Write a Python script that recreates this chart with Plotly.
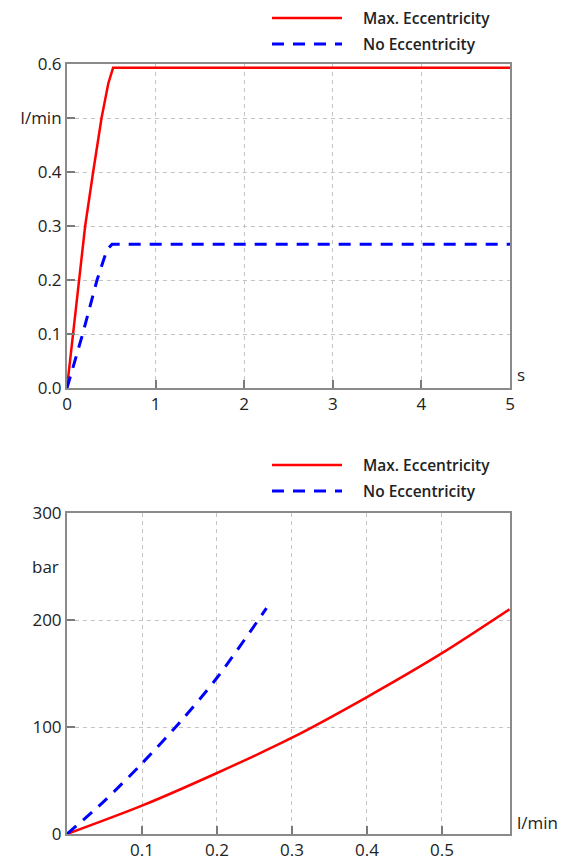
import plotly.graph_objects as go

# ---- data: top chart (flow vs time) ----
t_max = [0, 0.07, 0.135, 0.205, 0.295, 0.39, 0.466, 0.52, 5.0]
q_max = [0, 0.1, 0.2, 0.3, 0.4, 0.5, 0.564, 0.593, 0.593]
t_no = [0, 0.177, 0.339, 0.451, 0.508, 5.0]
q_no = [0, 0.1, 0.2, 0.256, 0.266, 0.266]

# ---- data: bottom chart (pressure vs flow) ----
f_max = [0, 0.1, 0.2, 0.3, 0.4, 0.5, 0.59]
p_max = [0, 26.5, 57, 90, 128, 169, 210]
f_no = [0, 0.05, 0.1, 0.15, 0.2, 0.266]
p_no = [0, 31, 66, 104, 146, 211]

series_names = ["Max. Eccentricity", "No Eccentricity"]

top_xticks = [0, 1, 2, 3, 4, 5]
top_yticks = [0, 0.1, 0.2, 0.3, 0.4, 0.5, 0.6]
top_ytext = ["0.0", "0.1", "0.2", "0.3", "0.4", "l/min", "0.6"]
bot_xticks = [0.1, 0.2, 0.3, 0.4, 0.5]
bot_xtext = ["0.1", "0.2", "0.3", "0.4", "0.5"]
bot_yticks = [0, 100, 200, 300]
bot_ytext = ["0", "100", "200", "300"]

# page body has an 8px default margin; size the figure so it fits the window
OFF = 8
W, H = 569 - OFF, 866 - OFF
RED = "#ff0000"
BLUE = "#0000ff"
FONT = "Open Sans"
TXT = "#222222"
DASH = "12px,9px"
TICK_SIZE = 17
LEG_SIZE = 15.5


def X(px):
    return (px - OFF) / W


def Y(py):
    return 1 - (py - OFF) / H


fig = go.Figure()
fig.add_trace(go.Scatter(x=t_max, y=q_max, mode="lines", name=series_names[0],
                         line=dict(color=RED, width=2.5), xaxis="x", yaxis="y", showlegend=False))
fig.add_trace(go.Scatter(x=t_no, y=q_no, mode="lines", name=series_names[1],
                         line=dict(color=BLUE, width=3, dash=DASH), xaxis="x", yaxis="y", showlegend=False))
fig.add_trace(go.Scatter(x=f_max, y=p_max, mode="lines", name=series_names[0],
                         line=dict(color=RED, width=2.5, shape="spline", smoothing=0.8),
                         xaxis="x2", yaxis="y2", showlegend=False))
fig.add_trace(go.Scatter(x=f_no, y=p_no, mode="lines", name=series_names[1],
                         line=dict(color=BLUE, width=3, dash=DASH, shape="spline", smoothing=0.8),
                         xaxis="x2", yaxis="y2", showlegend=False))

axis_common = dict(
    showline=True, linecolor="#8a8a8a", linewidth=2, mirror=True,
    ticks="inside", ticklen=8, tickwidth=2, tickcolor="#7a7a7a",
    showgrid=True, gridcolor="#c4c4c4", gridwidth=1, griddash="4px,4px",
    zeroline=False, tickfont=dict(family=FONT, size=TICK_SIZE, color=TXT),
    automargin=False, fixedrange=True,
)

x_dom = [X(67), X(510)]
top_dom = [Y(388), Y(64)]
bot_dom = [Y(834), Y(513)]

fig.update_layout(
    width=W, height=H,
    margin=dict(l=0, r=0, t=0, b=0),
    paper_bgcolor="white", plot_bgcolor="white",
    font=dict(family=FONT, color=TXT),
    xaxis=dict(axis_common, domain=x_dom, range=[0, 5], tickvals=top_xticks, anchor="y"),
    yaxis=dict(axis_common, domain=top_dom, range=[0, 0.6], tickvals=top_yticks,
               ticktext=top_ytext, anchor="x"),
    xaxis2=dict(axis_common, domain=x_dom, range=[0, 0.5907], tickvals=bot_xticks,
                ticktext=bot_xtext, anchor="y2"),
    yaxis2=dict(axis_common, domain=bot_dom, range=[0, 300], tickvals=bot_yticks,
                ticktext=bot_ytext, anchor="x2"),
)

shapes = []
annotations = []
for ly in (18, 465):
    for i, (name, color, w, dash) in enumerate([(series_names[0], RED, 2.5, "solid"),
                                                (series_names[1], BLUE, 3, DASH)]):
        yy = Y(ly + i * 26)
        shapes.append(dict(type="line", xref="paper", yref="paper",
                           x0=X(272), x1=X(342), y0=yy, y1=yy,
                           line=dict(color=color, width=w, dash=dash)))
        annotations.append(dict(xref="paper", yref="paper", x=X(362), y=yy,
                                xanchor="left", yanchor="middle", showarrow=False,
                                borderpad=0,
                                text=name, font=dict(family=FONT, size=LEG_SIZE, color=TXT, weight=600)))

# unit labels
annotations.append(dict(xref="paper", yref="paper", x=X(515), y=Y(374),
                        xanchor="left", yanchor="middle", showarrow=False, text="s",
                        font=dict(family=FONT, size=TICK_SIZE, color=TXT)))
annotations.append(dict(xref="paper", yref="paper", x=X(515), y=Y(822),
                        xanchor="left", yanchor="middle", showarrow=False, text="l/min",
                        font=dict(family=FONT, size=TICK_SIZE, color=TXT)))
annotations.append(dict(xref="paper", yref="y2", x=X(61), y=250,
                        xanchor="right", yanchor="middle", showarrow=False, text="bar",
                        font=dict(family=FONT, size=TICK_SIZE, color=TXT)))

fig.update_layout(shapes=shapes, annotations=annotations)

fig.write_html("out.html")
